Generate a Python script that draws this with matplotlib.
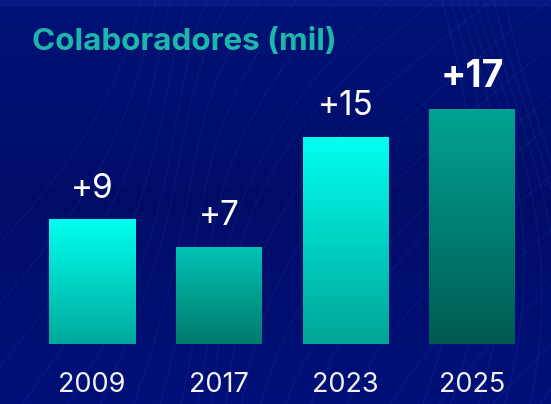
import matplotlib
matplotlib.use("Agg")
import matplotlib.pyplot as plt
import numpy as np
from matplotlib.colors import LinearSegmentedColormap

plt.rcParams['font.family'] = ['Inter', 'DejaVu Sans']

years = ['2009', '2017', '2023', '2025']
values = [9, 7, 15, 17]
labels = ['+9', '+7', '+15', '+17']

# gradient (top, bottom) for each bar
grad = [('#00FFEF', '#00A99B'),
        ('#00C2B3', '#007A6D'),
        ('#00FFF0', '#00A596'),
        ('#00A293', '#005B52')]

W, H = 551, 404
fig = plt.figure(figsize=(W / 100, H / 100), dpi=100)

# background
bg = fig.add_axes([0, 0, 1, 1])
bg.set_xlim(0, W)
bg.set_ylim(H, 0)
bg.axis('off')
bg_cmap = LinearSegmentedColormap.from_list('bg', ['#001277', '#000D68', '#011078'])
yy = np.linspace(0, 1, 200).reshape(-1, 1)
bg.imshow(yy, cmap=bg_cmap, extent=[0, W, H, 0], aspect='auto', zorder=0)
bg.add_patch(plt.Rectangle((0, 0), W, 7, color='#0A2090', alpha=0.6, lw=0, zorder=1))

# decorative swirl lines
t = np.linspace(0, 1, 200)
for i in range(22):
    x0 = -150 + i * 35
    xs = x0 + 300 * t + 70 * np.sin(np.pi * t + i * 0.3)
    ys = H + 20 - (H + 60) * t ** (0.8 + 0.03 * (i % 5))
    bg.plot(xs, ys, color='#4A78FF', lw=0.9, alpha=0.09, zorder=2)
for i in range(8):
    x0 = 420 + i * 18
    xs = x0 + 50 * np.sin(np.pi * t * 0.9 + i * 0.2)
    ys = H + 10 - (H + 30) * t
    bg.plot(xs, ys, color='#5A88FF', lw=0.9, alpha=0.09, zorder=2)

bg.text(32, 42, 'Colaboradores (mil)', color='#1BB8AA', fontsize=22.6,
        fontweight='bold', va='center', ha='left', zorder=5)

# bar axes
spacing = 126.83
x0px = 92
bottom_px = 344
ppu = 13.8
ax = fig.add_axes([0, (H - bottom_px) / H, 1, (bottom_px - 20) / H])
ax.patch.set_alpha(0)
for s in ax.spines.values():
    s.set_visible(False)
ax.tick_params(left=False, labelleft=False, bottom=False)

xpos = np.arange(len(values))
bw = 86 / spacing
bars = ax.bar(xpos, values, width=bw, color='none', zorder=3)
for b, (top, bot) in zip(bars, grad):
    cm = LinearSegmentedColormap.from_list('g', [bot, top])
    x, w, h = b.get_x(), b.get_width(), b.get_height()
    ax.imshow(np.linspace(0, 1, 100).reshape(-1, 1), cmap=cm, origin='lower',
              extent=[x, x + w, 0, h], aspect='auto', zorder=3)
ax.set_xlim(-x0px / spacing, (W - x0px) / spacing)
ax.set_ylim(0, (bottom_px - 20) / ppu)

for i, (v, lab) in enumerate(zip(values, labels)):
    last = i == len(values) - 1
    ax.annotate(lab, (i, v), xytext=(0, 16), textcoords='offset points',
                ha='center', va='baseline', color='white',
                fontsize=27 if last else 24,
                fontweight='bold' if last else 'normal', zorder=5)

ax.set_xticks(xpos)
ax.set_xticklabels(years, color='#F2F2F2', fontsize=19.5)
ax.tick_params(axis='x', pad=17)

fig.savefig('out.png', dpi=100)
